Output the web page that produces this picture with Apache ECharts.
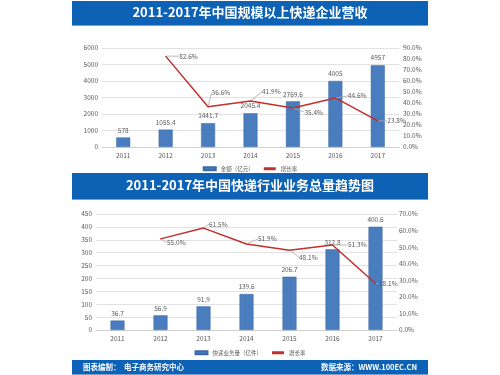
<!DOCTYPE html>
<html>
<head>
<meta charset="utf-8">
<script src="https://cdn.jsdelivr.net/npm/echarts@6/dist/echarts.min.js"></script>
<style>
    html, body { margin: 0; padding: 0; background: #fff; }
    #main { width: 500px; height: 375px; }
</style>
</head>
<body>
<div id="main"></div>
<script>
// 数据
var years = ['2011', '2012', '2013', '2014', '2015', '2016', '2017'];
var revenue = [578, 1055.4, 1441.7, 2045.4, 2769.6, 4005, 4957];        // 营收（亿元）
var revenueGrowth = [null, 82.6, 36.6, 41.9, 35.4, 44.6, 23.8];         // 增长率 %
var volume = [36.7, 56.9, 91.9, 139.6, 206.7, 312.8, 400.6];            // 业务量（亿件）
var volumeGrowth = [null, 55.0, 61.5, 51.9, 48.1, 51.3, 28.1];          // 增长率 %

var title1 = '2011-2017年中国规模以上快递企业营收';
var title2 = '2011-2017年中国快递行业业务总量趋势图';

var FONT = '"Microsoft YaHei", "Noto Sans CJK SC", sans-serif';
var BLUE = '#0d62b5';
var BAR = '#4a7dbd';
var RED = '#c0302c';
var TXT = '#595959';

// 增长率标签偏移
var offs1 = [[0, 0], [10, 0], [0, -14], [8, -9], [8, 4], [9, -2], [6, 0]];
var offs2 = [[0, 0], [3, 4], [2, -4], [8, -5], [6, 7], [12, 0], [0, 0]];

function pct(v) { return v.toFixed(1) + '%'; }

function valueAxis(idx, min, max, interval, margin, fmt) {
    return {
        type: 'value', gridIndex: idx, min: min, max: max, interval: interval,
        axisLine: { show: false }, axisTick: { show: false },
        axisLabel: { color: TXT, fontSize: 6.5, fontFamily: FONT, margin: margin, formatter: fmt || function(v) { return String(v); } },
        splitLine: { lineStyle: { color: '#e2e2e2', width: 1 } }
    };
}

function banner(y, h) {
    return [{
        type: 'rect', shape: { x: 72, y: y, width: 356, height: h },
        style: { fill: BLUE }
    }, {
        type: 'rect', shape: { x: 72, y: y + h - 1, width: 356, height: 1 },
        style: { fill: '#6fa3dc' }
    }];
}

function growthLine(name, gi, yi, data, offs) {
    return {
        name: name, type: 'line', xAxisIndex: gi, yAxisIndex: yi,
        data: data, symbol: 'circle', symbolSize: 1, showSymbol: true,
        itemStyle: { color: RED }, lineStyle: { color: RED, width: 1.5 },
        label: { show: true, position: 'right', distance: 3, color: TXT, fontSize: 6.5, fontFamily: FONT, formatter: function(p) { return pct(p.value); } },
        labelLine: { show: true, lineStyle: { color: '#aaa', width: 0.8 } },
        labelLayout: function(p) { return { dx: offs[p.dataIndex][0], dy: offs[p.dataIndex][1] }; }
    };
}

function bars(name, gi, yi, data) {
    return {
        name: name, type: 'bar', xAxisIndex: gi, yAxisIndex: yi,
        data: data, barWidth: 14,
        itemStyle: { color: BAR, borderColor: '#3c6aa8', borderWidth: 0.5 },
        label: { show: true, position: 'top', distance: 4, color: TXT, fontSize: 6.5, fontFamily: FONT }
    };
}

var myChart = echarts.init(document.getElementById('main'));
var option = {
    backgroundColor: '#fff',
    animation: false,
    grid: [
        { left: 102, right: 101, top: 48, height: 99 },
        { left: 96, right: 103, top: 214, height: 116 }
    ],
    legend: [{
        top: 161, left: 'center', itemGap: 10, itemHeight: 3, itemWidth: 12,
        textStyle: { color: TXT, fontSize: 5.5, fontFamily: FONT },
        data: [{ name: '金额（亿元）', icon: 'rect' }, { name: '增长率', icon: 'rect', itemStyle: { color: RED } }]
    }, {
        top: 345, left: 'center', itemGap: 10, itemHeight: 3, itemWidth: 12,
        textStyle: { color: TXT, fontSize: 5.5, fontFamily: FONT },
        data: [{ name: '快递业务量（亿件）', icon: 'rect' }, { name: '增长率 ', icon: 'rect', itemStyle: { color: RED } }],
        formatter: function(n) { return n.trim(); }
    }],
    xAxis: [0, 1].map(function(i) {
        return {
            type: 'category', gridIndex: i, data: years,
            axisLine: { lineStyle: { color: '#d0d0d0' } },
            axisTick: { show: false },
            axisLabel: { color: TXT, fontSize: 6.5, fontFamily: FONT, margin: 5 }
        };
    }),
    yAxis: [
        valueAxis(0, 0, 6000, 1000, 4),
        Object.assign(valueAxis(0, 0, 90, 10, 4, pct), { position: 'right', splitLine: { show: false } }),
        valueAxis(1, 0, 450, 50, 4),
        Object.assign(valueAxis(1, 0, 70, 10, 2, pct), { position: 'right', splitLine: { show: false } })
    ],
    series: [
        bars('金额（亿元）', 0, 0, revenue),
        growthLine('增长率', 0, 1, revenueGrowth, offs1),
        bars('快递业务量（亿件）', 1, 2, volume),
        growthLine('增长率 ', 1, 3, volumeGrowth, offs2)
    ],
    graphic: [].concat(
        banner(1, 25),
        banner(173, 27),
        banner(360, 15),
        [{
            type: 'text', left: 'center', top: 6,
            style: { text: title1, fill: '#fff', font: 'bold 13px ' + FONT }
        }, {
            type: 'text', left: 'center', top: 179,
            style: { text: title2, fill: '#fff', font: 'bold 13px ' + FONT }
        }, {
            type: 'text', left: 83, top: 363,
            style: { text: '图表编制：  电子商务研究中心', fill: '#fff', font: 'bold 7.5px ' + FONT }
        }, {
            type: 'text', right: 83, top: 363,
            style: { text: '数据来源：WWW.100EC.CN', fill: '#fff', font: 'bold 7.5px ' + FONT }
        }]
    )
};
myChart.setOption(option);
</script>
</body>
</html>
